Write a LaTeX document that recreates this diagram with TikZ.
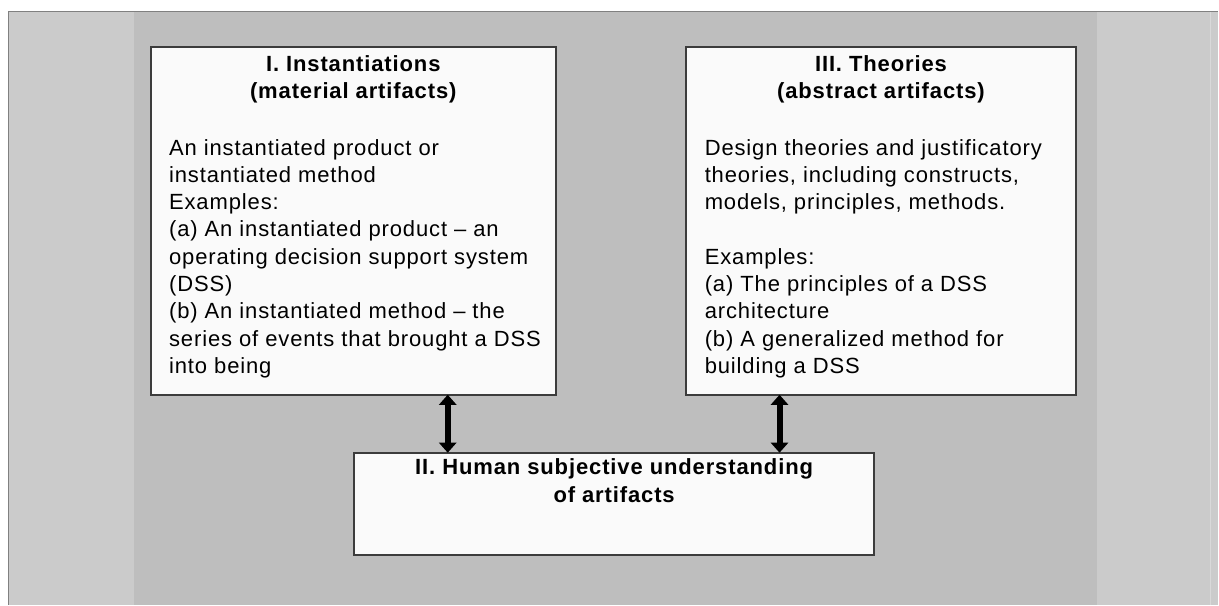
\documentclass[tikz,border=0pt]{standalone}
\usepackage{fontspec}
\setmainfont{Liberation Sans}[LetterSpace=4]
\usetikzlibrary{arrows.meta, positioning}
\definecolor{panelgray}{HTML}{BEBEBE}
\definecolor{framegray}{HTML}{CBCBCB}
\definecolor{boxline}{HTML}{3C3C3C}

\begin{document}
\begin{tikzpicture}[x=1pt, y=-1pt,
  artbox/.style={draw=boxline, line width=2pt, fill=white!98!black, inner sep=0pt, outer sep=0pt, anchor=north west},
  boxtext/.style={font=\fontsize{22}{27.3}\selectfont, inner sep=0pt, align=left, anchor=north west},
  boxtitle/.style={font=\fontsize{22}{27.3}\selectfont\bfseries, inner sep=0pt, align=center, anchor=north},
  bothway/.style={{Triangle[length=10pt,width=17pt]}-{Triangle[length=10pt,width=17pt]}, line width=6pt}]

  % Page frame and grey panels
  \fill[white] (0,0) rectangle (1219,605);
  \fill[framegray] (8,11) rectangle (1219,605);
  \fill[panelgray] (134,12) rectangle (1098,605);
  \draw[gray, line width=1.5pt] (8.75,605) -- (8.75,11.75) -- (1219,11.75);
  \draw[white!85!black] (1211,12) -- (1211,605);

  % I. Instantiations
  \node[artbox, minimum width=405, minimum height=348] (inst) at (151,47) {};
  \node[boxtitle] (inst title) at (353.5,55.5) {I. Instantiations\\(material artifacts)};
  \node[boxtext] (inst body) at (169,139) {An instantiated product or\\instantiated method\\Examples:\\(a) An instantiated product -- an\\operating decision support system\\(DSS)\\(b) An instantiated method -- the\\series of events that brought a DSS\\into being};

  % III. Theories
  \node[artbox, minimum width=391, minimum height=348] (theo) at (686,47) {};
  \node[boxtitle] (theo title) at (881.5,55.5) {III. Theories\\(abstract artifacts)};
  \node[boxtext] (theo body) at (705,139) {Design theories and justificatory\\theories, including constructs,\\models, principles, methods.\\[27.3pt]Examples:\\(a) The principles of a DSS\\architecture\\(b) A generalized method for\\building a DSS};

  % II. Human understanding
  \node[artbox, minimum width=521, minimum height=102] (human) at (354,453) {};
  \node[boxtitle] (human title) at (614.5,459) {II. Human subjective understanding\\of artifacts};

  % Links
  \draw[bothway] ([xshift=94.5]inst.south) -- ([xshift=94.5]inst.south |- human.north);
  \draw[bothway] ([xshift=-101.5]theo.south) -- ([xshift=-101.5]theo.south |- human.north);
\end{tikzpicture}
\end{document}
